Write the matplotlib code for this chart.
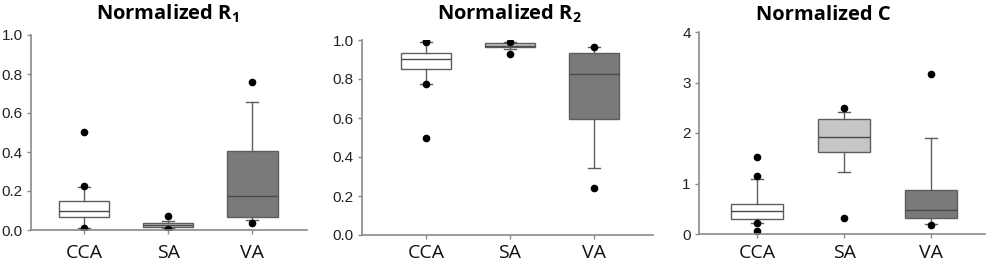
import matplotlib
matplotlib.use("Agg")
import matplotlib.pyplot as plt

categories = ["CCA", "SA", "VA"]

# Box statistics per panel: (whislo, q1, med, q3, whishi, fliers)
r1_stats = {
    "CCA": (0.012, 0.065, 0.097, 0.149, 0.222, [0.503, 0.226, 0.010, 0.004]),
    "SA":  (0.012, 0.015, 0.026, 0.038, 0.048, [0.072, 0.007]),
    "VA":  (0.050, 0.067, 0.176, 0.407, 0.658, [0.757, 0.034]),
}
r2_stats = {
    "CCA": (0.776, 0.850, 0.904, 0.932, 0.991, [0.997, 0.988, 0.776, 0.499]),
    "SA":  (0.952, 0.962, 0.971, 0.983, 0.988, [0.991, 0.926]),
    "VA":  (0.342, 0.593, 0.826, 0.935, 0.966, [0.966, 0.243]),
}
c_stats = {
    "CCA": (0.212, 0.299, 0.464, 0.597, 1.095, [1.526, 1.141, 0.212, 0.066]),
    "SA":  (1.227, 1.625, 1.924, 2.275, 2.408, [2.488, 0.312]),
    "VA":  (0.199, 0.312, 0.478, 0.862, 1.904, [3.171, 0.186]),
}

titles = ["Normalized R$_\\mathregular{1}$", "Normalized R$_\\mathregular{2}$", "Normalized C"]
ylims = [(0, 1.0), (0, 1.0), (0, 4)]
yticks = [[0.0, 0.2, 0.4, 0.6, 0.8, 1.0], [0.0, 0.2, 0.4, 0.6, 0.8, 1.0], [0, 1, 2, 3, 4]]
ytick_labels = [["0.0", "0.2", "0.4", "0.6", "0.8", "1.0"],
                ["0.0", "0.2", "0.4", "0.6", "0.8", "1.0"],
                ["0", "1", "2", "3", "4"]]
box_colors = ["#ffffff", "#c6c6c6", "#7a7a7a"]

# pixel layout: left, right, top, bottom of axes, xlim, title centre x, xlabel pad
positions_px = [
    (31, 307, 35, 230, (0.37, 3.65), 168, 7.0),
    (362, 653, 40, 235, (0.24, 3.70), 509, 3.5),
    (699, 985, 32, 234, (0.33, 3.62), 823, 4.0),
]
W, H = 989, 264

fig = plt.figure(figsize=(W / 100, H / 100), dpi=100)
axis_gray = "#8a8a8a"
edge_gray = "#5e5e5e"

for i, stats in enumerate([r1_stats, r2_stats, c_stats]):
    l, r, t, b, xl, tx, xpad = positions_px[i]
    ax = fig.add_axes([l / W, (H - b) / H, (r - l) / W, (b - t) / H])
    bxp_stats = []
    for cat in categories:
        lo, q1, med, q3, hi, fl = stats[cat]
        bxp_stats.append(dict(whislo=lo, q1=q1, med=med, q3=q3, whishi=hi, fliers=fl, label=cat))
    res = ax.bxp(bxp_stats, positions=[1, 2, 3], widths=0.6, patch_artist=True,
                 boxprops=dict(edgecolor=edge_gray, linewidth=1.0),
                 medianprops=dict(color="#4a4a4a", linewidth=1.0),
                 whiskerprops=dict(color=edge_gray, linewidth=1.0),
                 capprops=dict(color=edge_gray, linewidth=1.0),
                 capwidths=0.14,
                 flierprops=dict(marker="o", markerfacecolor="black", markeredgecolor="black",
                                 markersize=4.5, linestyle="none"))
    for patch, c in zip(res["boxes"], box_colors):
        patch.set_facecolor(c)
    ax.set_xlim(*xl)
    ax.set_ylim(*ylims[i])
    ax.set_yticks(yticks[i])
    ax.set_yticklabels(ytick_labels[i], fontfamily="Liberation Sans", fontsize=11, color="#222222")
    ax.set_xticks([1, 2, 3])
    ax.set_xticklabels(categories, fontfamily="Open Sans", fontsize=14, color="#111111")
    for s in ["top", "right"]:
        ax.spines[s].set_visible(False)
    for s in ["left", "bottom"]:
        ax.spines[s].set_color(axis_gray)
        ax.spines[s].set_linewidth(1.2)
    ax.tick_params(axis="both", direction="out", length=3, color=axis_gray, width=1)
    ax.tick_params(axis="x", pad=xpad)
    ax.tick_params(axis="y", pad=3)
    fig.text(tx / W, (H - 20) / H, titles[i], fontfamily="Open Sans", fontweight="bold",
             fontsize=14.5, ha="center", va="baseline")

fig.savefig("out.png", dpi=100)
